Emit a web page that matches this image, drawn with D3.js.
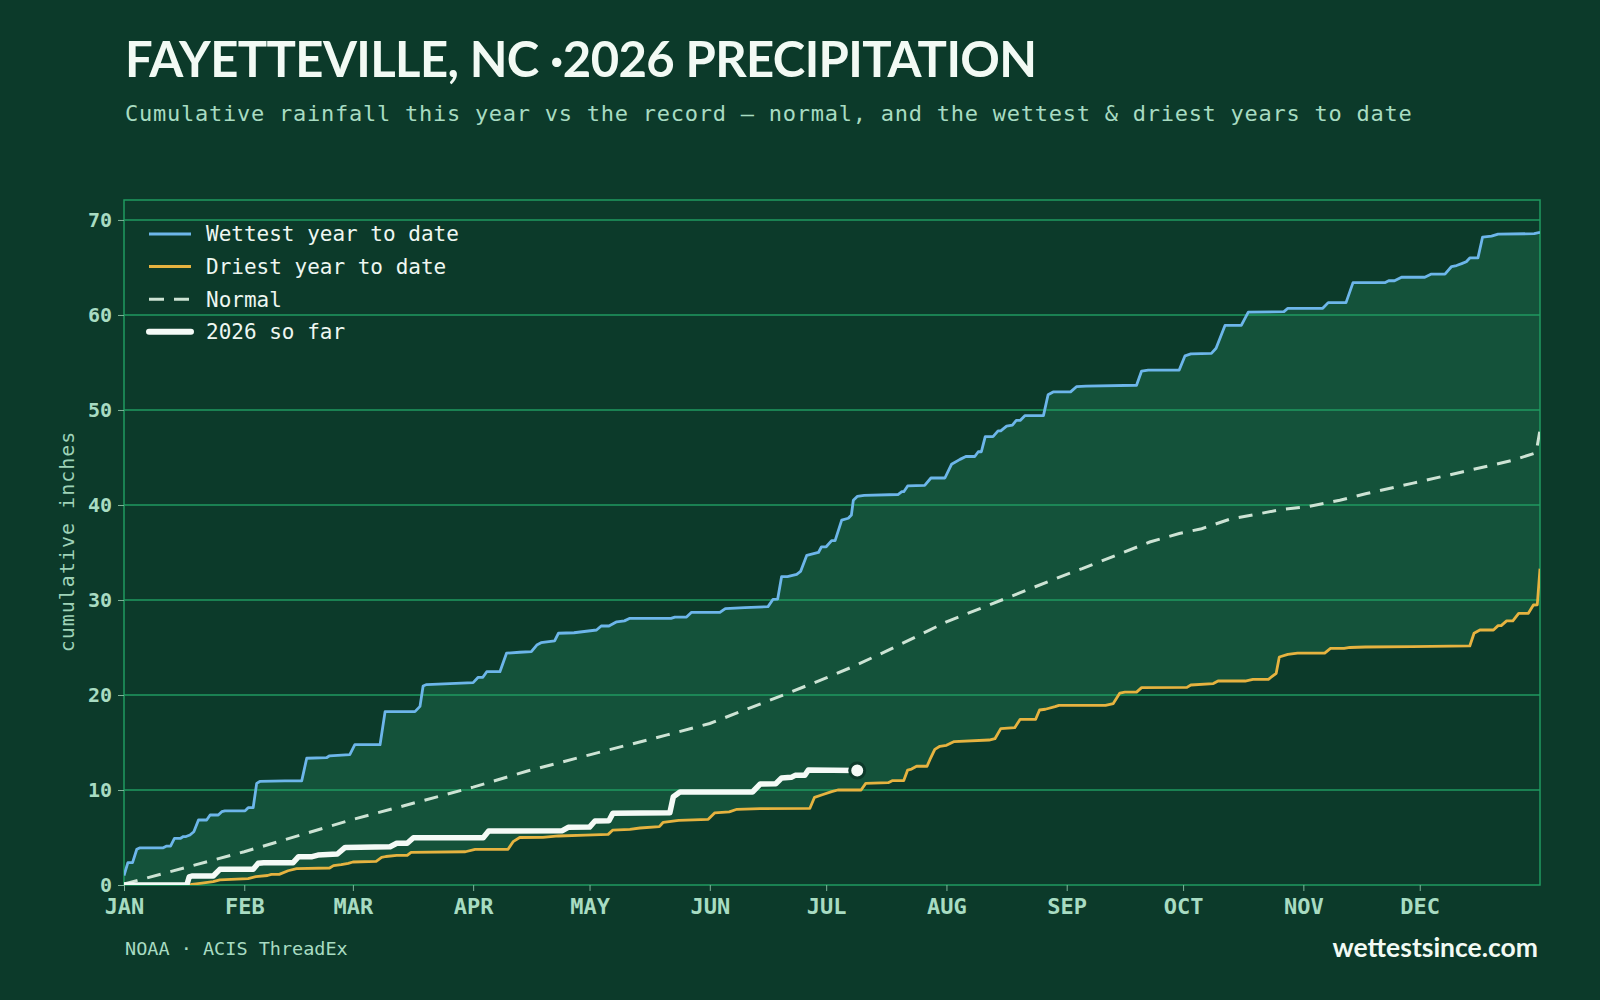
<!DOCTYPE html>
<html>
<head>
<meta charset="utf-8">
<script src="https://cdn.jsdelivr.net/npm/d3@7"></script>
<style>
    body { margin: 0; background: #0c3a2a; }
    svg text { font-family: "DejaVu Sans Mono", monospace; }
</style>
</head>
<body>
<div id="chart-area"></div>
<script>

// day of year (0 = Jan 1) and cumulative inches
const wettest = [
    [0, 1.0], [1, 2.35], [2.2, 2.35], [3.3, 3.76], [4, 3.9], [10, 3.9], [11, 4.1], [12, 4.1],
    [13, 4.9], [14.5, 4.9], [15.3, 5.1], [16, 5.1], [17, 5.26], [18, 5.6], [19.2, 6.84], [21.3, 6.84],
    [22.2, 7.37], [24.3, 7.37], [25.2, 7.72], [26, 7.8], [31.2, 7.8], [32, 8.14], [33.3, 8.14],
    [34.2, 10.7], [35, 10.9], [41.5, 10.95], [45.8, 10.95], [47.1, 13.34], [52.2, 13.4], [53, 13.6],
    [58.2, 13.72], [59.5, 14.77], [66, 14.77], [67.3, 18.25], [75, 18.25], [76.3, 18.8], [77.1, 20.95],
    [78, 21.1], [90, 21.3], [91.3, 21.86], [92.5, 21.86], [93.5, 22.45], [96.9, 22.45], [98.6, 24.4],
    [102, 24.5], [105, 24.56], [106.4, 25.26], [107.5, 25.5], [111, 25.7], [112, 26.5], [116, 26.55],
    [121.8, 26.84], [123, 27.26], [125, 27.26], [127, 27.7], [129, 27.8], [130.4, 28.07], [141, 28.07],
    [142, 28.2], [145, 28.2], [146.3, 28.7], [153.6, 28.7], [155, 29.1], [160, 29.2], [166, 29.3],
    [167.3, 30.07], [168.5, 30.1], [169.5, 32.45], [171, 32.45], [173.4, 32.7], [174.4, 33.0],
    [176, 34.7], [179, 35.0], [179.8, 35.6], [181, 35.6], [182.4, 36.25], [183.3, 36.25], [185, 38.4],
    [186.7, 38.6], [187.5, 38.95], [188, 40.5], [189, 40.9], [190.8, 41.0], [199.5, 41.1], [200.5, 41.4],
    [201, 41.4], [202, 42.0], [206.4, 42.07], [208, 42.84], [211.6, 42.84], [213.3, 44.28],
    [215.5, 44.8], [217, 45.1], [219.3, 45.1], [220.2, 45.6], [221, 45.6], [222, 47.2], [224, 47.2],
    [225.3, 47.8], [226, 47.8], [227.5, 48.3], [229, 48.4], [230, 48.9], [231, 48.9], [232.2, 49.4],
    [237, 49.4], [238.2, 51.6], [239.5, 51.9], [244, 51.9], [245.5, 52.45], [248, 52.5], [261, 52.6],
    [262.3, 54.1], [264, 54.2], [272, 54.2], [273.5, 55.7], [275, 55.9], [280.3, 55.96], [281.5, 56.5],
    [283.8, 58.9], [288, 58.9], [289.8, 60.3], [299, 60.35], [300, 60.7], [309, 60.7], [310.4, 61.3],
    [315, 61.3], [316.8, 63.4], [325, 63.4], [326, 63.6], [327.5, 63.6], [329.3, 63.97], [335.3, 63.97],
    [337, 64.3], [340.5, 64.3], [342.2, 65.1], [343.5, 65.2], [344.8, 65.4], [346, 65.6], [346.9, 66.0],
    [349, 66.0], [350.2, 68.2], [352.5, 68.3], [354.2, 68.5], [363.5, 68.56], [365, 68.7]
];

const driest = [
    [0, 0], [17, 0], [17.5, 0.07], [19.6, 0.18], [23, 0.35], [24.7, 0.53], [32, 0.67], [34, 0.88],
    [37, 1.0], [38, 1.12], [40, 1.12], [42.3, 1.5], [44.5, 1.72], [53, 1.79], [54, 2.04], [56, 2.14],
    [57.8, 2.28], [59, 2.42], [65, 2.49], [66.4, 2.9], [67.5, 3.0], [70.3, 3.12], [73, 3.12], [74, 3.44],
    [88, 3.5], [90.5, 3.76], [99, 3.76], [100.3, 4.56], [102, 5.0], [108, 5.02], [112, 5.16],
    [119, 5.26], [124.8, 5.33], [126, 5.78], [130.4, 5.86], [133, 6.0], [138, 6.14], [139, 6.6],
    [143, 6.8], [150.6, 6.91], [152.3, 7.6], [156, 7.7], [158, 7.97], [164, 8.04], [176.8, 8.07],
    [178, 9.23], [180, 9.5], [182.4, 9.82], [184, 10.0], [190, 10.0], [191.2, 10.7], [197, 10.77],
    [198, 10.98], [201, 11.0], [202, 12.1], [203, 12.2], [204.3, 12.5], [207, 12.5], [207.7, 13.16],
    [209, 14.28], [210.3, 14.6], [212, 14.7], [214, 15.1], [223, 15.26], [224.5, 15.4], [226, 16.46],
    [229.6, 16.56], [231, 17.44], [235, 17.44], [236, 18.42], [237.5, 18.5], [240, 18.77], [241, 18.9],
    [253, 18.9], [255, 19.1], [256.7, 20.2], [258, 20.3], [261, 20.3], [262.3, 20.77], [274, 20.8],
    [275, 21.05], [280.8, 21.2], [282, 21.47], [289, 21.47], [291, 21.65], [295, 21.65], [297, 22.28],
    [297.8, 24.0], [300, 24.28], [302.5, 24.4], [309.5, 24.4], [311, 24.9], [314.5, 24.9], [316, 25.0],
    [320, 25.05], [332, 25.09], [346.9, 25.16], [348, 26.5], [349.5, 26.84], [353, 26.84],
    [354.2, 27.3], [355, 27.3], [356.4, 27.8], [358, 27.8], [359.5, 28.6], [362, 28.6], [363.3, 29.47],
    [364.3, 29.5], [365, 33.3]
];

const normal = [
    [0, 0.1], [31, 3.5], [59, 6.9], [90, 10.3], [104, 12.0], [120, 13.7], [140, 15.8], [151, 17.0],
    [170, 20.0], [181, 21.8], [188, 23.0], [198, 24.9], [200, 25.3], [212, 27.7], [227.5, 30.2],
    [243, 32.7], [247, 33.3], [264.4, 36.1], [272, 37.0], [277.8, 37.5], [285, 38.5], [298.8, 39.55],
    [304.8, 39.8], [313.4, 40.5], [320.3, 41.2], [332.3, 42.3], [345.2, 43.5], [358, 44.7],
    [364, 45.5], [365, 47.9]
];

const thisYear = [
    [0, 0], [16.2, 0], [16.8, 0.85], [17.5, 0.95], [23, 0.95], [24.7, 1.65], [33.3, 1.65],
    [34.6, 2.28], [36, 2.35], [43.6, 2.35], [45, 2.98], [48.5, 2.98], [50, 3.15], [55, 3.26],
    [57, 3.96], [68.6, 4.03], [70.3, 4.39], [73, 4.39], [74.6, 4.98], [92.6, 4.98], [94, 5.68],
    [113, 5.72], [114.5, 6.07], [120, 6.1], [121.4, 6.74], [125, 6.76], [126, 7.54], [140.7, 7.6],
    [141.6, 9.3], [143.3, 9.79], [162, 9.79], [164, 10.63], [168, 10.66], [169.5, 11.26], [172, 11.33],
    [173, 11.54], [175.5, 11.54], [176.4, 12.1], [189, 12.05]
];

const monthDays = [0, 31, 59, 90, 120, 151, 181, 212, 243, 273, 304, 334];
const monthLabels = ["JAN", "FEB", "MAR", "APR", "MAY", "JUN", "JUL", "AUG", "SEP", "OCT", "NOV", "DEC"];
const yTicks = [0, 10, 20, 30, 40, 50, 60, 70];
const legendLabels = ["Wettest year to date", "Driest year to date", "Normal", "2026 so far"];


class RainChart {

    constructor(parentElement) {
        this.parentElement = parentElement;
        this.initVis();
    }

    initVis() {
        let vis = this;

        vis.margin = {top: 200, right: 60, bottom: 115, left: 124};
        vis.width = 1600 - vis.margin.left - vis.margin.right;
        vis.height = 1000 - vis.margin.top - vis.margin.bottom;

        vis.colors = {
            bg: "#0c3a2a", band: "#14523a", grid: "#1f9a60",
            wet: "#6db6ea", dry: "#e6b340", normal: "#cde3d4", now: "#f4faf6",
            muted: "#a8dcc2", text: "#f2faf4"
        };

        vis.root = d3.select("#" + vis.parentElement).append("svg")
            .attr("width", 1600)
            .attr("height", 1000);

        vis.root.append("rect")
            .attr("width", 1600)
            .attr("height", 1000)
            .attr("fill", vis.colors.bg);

        vis.svg = vis.root.append("g")
            .attr("transform", "translate(" + vis.margin.left + "," + vis.margin.top + ")");

        // scales
        vis.x = d3.scaleLinear()
            .domain([0, 365])
            .range([0, vis.width]);
        vis.y = d3.scaleLinear()
            .domain([0, 72.1])
            .range([vis.height, 0]);

        vis.svg.append("clipPath")
            .attr("id", "plot-clip")
            .append("rect")
            .attr("width", vis.width)
            .attr("height", vis.height);

        vis.updateVis();
    }

    updateVis() {
        let vis = this;

        // band between driest and wettest
        let band = d3.area()
            .x(d => vis.x(d.day))
            .y0(d => vis.y(d.lo))
            .y1(d => vis.y(d.hi));

        let dryAt = d3.scaleLinear().domain(driest.map(d => d[0])).range(driest.map(d => d[1]));
        let wetAt = d3.scaleLinear().domain(wettest.map(d => d[0])).range(wettest.map(d => d[1]));
        let days = Array.from(new Set(wettest.map(d => d[0]).concat(driest.map(d => d[0])))).sort((a, b) => a - b);
        let bandData = days.map(day => ({day: day, hi: wetAt(day), lo: dryAt(day)}));

        vis.svg.append("path")
            .datum(bandData)
            .attr("fill", vis.colors.band)
            .attr("d", band);

        // gridlines
        vis.svg.selectAll("line.grid")
            .data(yTicks.filter(d => d > 0))
            .enter()
            .append("line")
            .attr("class", "grid")
            .attr("x1", 0)
            .attr("x2", vis.width)
            .attr("y1", d => vis.y(d))
            .attr("y2", d => vis.y(d))
            .attr("stroke", vis.colors.grid)
            .attr("stroke-width", 1.5);

        // frame
        vis.svg.append("rect")
            .attr("width", vis.width)
            .attr("height", vis.height)
            .attr("fill", "none")
            .attr("stroke", vis.colors.grid)
            .attr("stroke-width", 1.5);

        // axes
        let yAxis = d3.axisLeft(vis.y)
            .tickValues(yTicks)
            .tickSize(6)
            .tickPadding(6);
        let xAxis = d3.axisBottom(vis.x)
            .tickValues(monthDays)
            .tickFormat((d, i) => monthLabels[i])
            .tickSize(6)
            .tickPadding(7);

        let gy = vis.svg.append("g").attr("class", "y-axis").call(yAxis);
        let gx = vis.svg.append("g").attr("class", "x-axis")
            .attr("transform", "translate(0," + vis.height + ")")
            .call(xAxis);

        [gx, gy].forEach(g => {
            g.select(".domain").remove();
            g.selectAll(".tick line").attr("stroke", "#7fb39a");
            g.selectAll(".tick text")
                .attr("fill", vis.colors.muted)
                .style("font-family", "DejaVu Sans Mono")
                .style("font-weight", "bold");
        });
        gy.selectAll(".tick text").style("font-size", "20px");
        gx.selectAll(".tick text").style("font-size", "22px");

        // lines
        let line = d3.line()
            .x(d => vis.x(d[0]))
            .y(d => vis.y(d[1]));

        let plot = vis.svg.append("g").attr("clip-path", "url(#plot-clip)");

        plot.append("path")
            .datum(wettest)
            .attr("fill", "none")
            .attr("stroke", vis.colors.wet)
            .attr("stroke-width", 2.8)
            .attr("stroke-linejoin", "round")
            .attr("d", line);

        plot.append("path")
            .datum(driest)
            .attr("fill", "none")
            .attr("stroke", vis.colors.dry)
            .attr("stroke-width", 2.8)
            .attr("stroke-linejoin", "round")
            .attr("d", line);

        plot.append("path")
            .datum(normal)
            .attr("fill", "none")
            .attr("stroke", vis.colors.normal)
            .attr("stroke-width", 3)
            .attr("stroke-dasharray", "14,10")
            .attr("d", line);

        plot.append("path")
            .datum(thisYear)
            .attr("fill", "none")
            .attr("stroke", vis.colors.now)
            .attr("stroke-width", 5.5)
            .attr("stroke-linejoin", "round")
            .attr("d", line);

        let last = thisYear[thisYear.length - 1];
        vis.svg.append("circle")
            .attr("cx", vis.x(last[0]))
            .attr("cy", vis.y(last[1]))
            .attr("r", 7.5)
            .attr("fill", vis.colors.now)
            .attr("stroke", vis.colors.bg)
            .attr("stroke-width", 3);

        // legend
        let legendStyles = [
            {color: vis.colors.wet, width: 3, dash: null},
            {color: vis.colors.dry, width: 3, dash: null},
            {color: vis.colors.normal, width: 3, dash: "15,10"},
            {color: vis.colors.now, width: 6, dash: null}
        ];
        let legend = vis.root.append("g").attr("class", "legend");
        let rows = legend.selectAll("g")
            .data(legendLabels)
            .enter()
            .append("g")
            .attr("transform", (d, i) => "translate(149," + (234 + i * 32.6) + ")");
        rows.append("line")
            .attr("x1", 0)
            .attr("x2", 42)
            .attr("stroke", (d, i) => legendStyles[i].color)
            .attr("stroke-width", (d, i) => legendStyles[i].width)
            .attr("stroke-linecap", (d, i) => i === 3 ? "round" : "butt")
            .attr("stroke-dasharray", (d, i) => legendStyles[i].dash);
        rows.append("text")
            .attr("x", 57)
            .attr("dy", "0.35em")
            .attr("fill", "#eef7f1")
            .style("font-size", "21px")
            .text(d => d);

        // titles
        vis.root.append("text")
            .attr("x", 125)
            .attr("y", 77)
            .attr("fill", vis.colors.text)
            .style("font-family", "Lato")
            .style("font-weight", "bold")
            .style("font-size", "49px")
            .style("letter-spacing", "-0.6px")
            .text("FAYETTEVILLE, NC ·2026 PRECIPITATION");

        vis.root.append("text")
            .attr("x", 125)
            .attr("y", 121)
            .attr("fill", vis.colors.muted)
            .style("font-size", "22px")
            .style("letter-spacing", "0.75px")
            .text("Cumulative rainfall this year vs the record — normal, and the wettest & driest years to date");

        vis.root.append("text")
            .attr("transform", "translate(67," + (vis.margin.top + vis.height / 2 - 1) + ") rotate(-90)")
            .attr("text-anchor", "middle")
            .attr("dy", "0.35em")
            .attr("fill", "#9fd3b8")
            .style("font-size", "20px")
            .style("letter-spacing", "1px")
            .text("cumulative inches");

        // footer
        vis.root.append("text")
            .attr("x", 125)
            .attr("y", 955)
            .attr("fill", vis.colors.muted)
            .style("font-size", "18.5px")
            .text("NOAA · ACIS ThreadEx");

        vis.root.append("text")
            .attr("x", 1538)
            .attr("y", 957)
            .attr("text-anchor", "end")
            .attr("fill", vis.colors.text)
            .style("font-family", "Lato")
            .style("font-weight", "bold")
            .style("font-size", "26.5px")
            .text("wettestsince.com");
    }
}

new RainChart("chart-area");

</script>
</body>
</html>
